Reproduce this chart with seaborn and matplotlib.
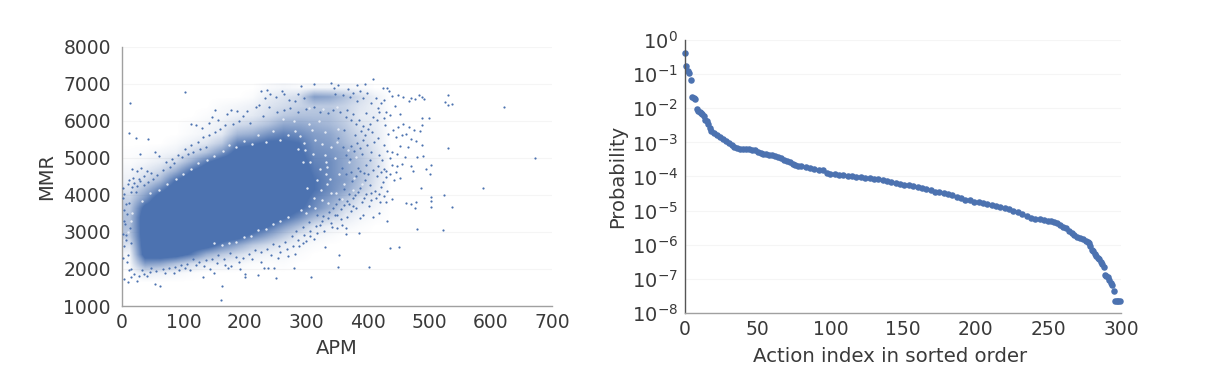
import pandas as pd
import seaborn as sns
import matplotlib.pyplot as plt
from matplotlib.colors import LinearSegmentedColormap

OUTPUT_PATH = "out.png"
BLUE = "#4c72b0"
TEXT = "#3a3a3a"

# The cloud is far too dense to read dot by dot, so its ink coverage is read off
# the picture per cell: 25 APM wide (columns from 0) and 250 MMR tall (rows from 7000 down).
COVERAGE_EXTENT = [0, 450, 1500, 7000]
COVERAGE_7000 = [0, 0, 0, 0, 0, 0, 0, 0, 0, .03, .05, .03, .05, .05, .05, .03, 0, 0]
COVERAGE_6750 = [0, 0, 0, 0, 0, 0, 0, 0, .02, .1, .15, .2, .55, .5, .35, .2, .08, 0]
COVERAGE_6500 = [0, 0, 0, 0, 0, 0, .03, .05, .08, .15, .2, .25, .3, .3, .25, .15, .08, 0]
COVERAGE_6250 = [0, 0, 0, 0, 0, .02, .05, .08, .12, .2, .3, .35, .35, .35, .25, .12, .1, 0]
COVERAGE_6000 = [0, 0, 0, 0, .02, .05, .08, .2, .25, .35, .5, .5, .45, .4, .3, .15, .1, 0]
COVERAGE_5750 = [0, 0, 0, 0, .03, .06, .12, .4, .45, .6, .7, .65, .55, .5, .35, .2, .12, 0]
COVERAGE_5500 = [0, 0, 0, .03, .08, .15, .3, .7, .75, .85, .85, .8, .6, .55, .4, .25, .12, 0]
COVERAGE_5250 = [.01, .02, .05, .08, .2, .35, .6, .9, .95, .97, .95, .85, .65, .6, .5, .3, .15, 0]
COVERAGE_5000 = [.02, .05, .1, .2, .45, .75, .95, 1, 1, 1, 1, .92, .7, .65, .5, .35, .18, 0]
COVERAGE_4750 = [.05, .12, .22, .45, .8, 1, 1, 1, 1, 1, 1, .95, .75, .65, .5, .35, .18, 0]
COVERAGE_4500 = [.08, .2, .4, .8, 1, 1, 1, 1, 1, 1, 1, 1, .8, .65, .55, .35, .15, 0]
COVERAGE_4250 = [.15, .4, .7, 1, 1, 1, 1, 1, 1, 1, 1, 1, .8, .65, .5, .3, .12, 0]
COVERAGE_4000 = [.25, .6, 1, 1, 1, 1, 1, 1, 1, 1, 1, .95, .7, .55, .35, .15, .08, 0]
COVERAGE_3750 = [.3, .9, 1, 1, 1, 1, 1, 1, 1, 1, 1, .85, .65, .45, .2, .1, .05, 0]
COVERAGE_3500 = [.35, 1, 1, 1, 1, 1, 1, 1, 1, 1, .85, .65, .4, .25, .12, .05, .02, 0]
COVERAGE_3250 = [.35, 1, 1, 1, 1, 1, 1, 1, 1, .8, .55, .35, .15, .08, .05, .02, 0, 0]
COVERAGE_3000 = [.3, 1, 1, 1, 1, 1, 1, .95, .7, .5, .3, .12, .06, .03, 0, 0, 0, 0]
COVERAGE_2750 = [.15, 1, 1, 1, 1, .95, .7, .5, .3, .2, .1, .05, .02, 0, 0, 0, 0, 0]
COVERAGE_2500 = [.05, .95, 1, .95, .75, .45, .3, .2, .1, .06, .05, .02, 0, 0, 0, 0, 0, 0]
COVERAGE_2250 = [.03, .55, .5, .35, .2, .1, .08, .05, .02, .01, .02, 0, 0, 0, 0, 0, 0, 0]
COVERAGE_2000 = [0, .12, .08, .05, .02, 0, 0, 0, 0, 0, 0, 0, 0, 0, 0, 0, 0, 0]
COVERAGE_1750 = [0, 0, 0, 0, 0, 0, 0, 0, 0, 0, 0, 0, 0, 0, 0, 0, 0, 0]

# Individually visible dots.
OUTLIERS = [
    (13, 6480), (102, 6790), (12, 5680), (23, 5540), (42, 5500), (30, 5100), (53, 5150), (60, 5060),
    (62, 1530), (54, 1590), (4, 1730), (10, 1660), (24, 1680), (161, 1170), (163, 1550), (200, 1870),
    (201, 1780), (222, 1830), (250, 1750), (307, 1780), (132, 1780), (150, 1880), (172, 2020),
    (385, 2980), (402, 2060), (352, 2060), (353, 2370), (437, 2570), (451, 2590), (481, 3090),
    (523, 3060), (537, 3670), (524, 3990), (503, 3850), (503, 3680), (503, 3950), (588, 4180),
    (673, 4990), (622, 6390), (530, 5270), (503, 4820), (502, 4560), (495, 4700), (487, 4200),
    (478, 3800), (470, 3750), (463, 3780), (477, 3650), (488, 5350), (488, 5900), (489, 6080),
    (500, 6070), (485, 5730), (471, 5500), (479, 5470), (462, 5640), (530, 6700), (526, 6500),
    (538, 6470), (531, 6420), (489, 6640), (491, 6590), (483, 6700), (477, 6600), (470, 6620),
    (467, 6550), (458, 6650), (450, 6700), (440, 6680), (432, 6880), (425, 6900), (435, 6800),
    (409, 7130), (395, 6990), (382, 6980), (340, 7040), (313, 6990), (292, 6950), (260, 6800),
    (236, 6830), (226, 6800), (448, 5110), (455, 4850), (447, 4780), (470, 4780), (473, 4650),
    (461, 5040), (490, 5050), (480, 5040), (440, 4800), (430, 4650), (425, 4350), (443, 4400),
    (440, 3900), (432, 4100), (430, 3800), (420, 3800), (418, 3500), (432, 3300), (408, 3400),
    (402, 3700), (392, 3450), (365, 3100), (364, 2950), (350, 3100), (330, 2600), (340, 3250),
    (312, 2820), (300, 2750), (278, 2620), (282, 2400), (280, 2030), (270, 2350), (254, 2300),
    (247, 2040), (238, 2040), (231, 2040), (226, 2200), (197, 2300), (192, 1990), (178, 2070),
    (144, 2010), (155, 2150), (120, 2100), (110, 1980), (85, 1900),
]

FRINGE = [
    (151, 6290), (146, 6120), (157, 6030), (171, 6190), (177, 6310), (187, 6280), (197, 6130),
    (204, 6260), (218, 6370), (223, 6440), (233, 6610), (241, 6740), (251, 6660), (263, 6730),
    (272, 6580), (282, 6540), (287, 6720), (297, 6610), (345, 6890), (352, 6960), (368, 6870),
    (376, 6760), (388, 6820), (399, 6770), (414, 6610), (421, 6480), (429, 6240), (437, 6170),
    (444, 6410), (453, 6180), (415, 6030), (403, 5920), (397, 6220), (386, 6040), (428, 5890),
    (446, 5570), (455, 5610), (465, 5290), (452, 5320), (439, 5170), (427, 5360), (417, 5540),
    (407, 5690), (396, 5610), (389, 5730), (404, 4940), (416, 4790), (426, 4700), (394, 4590),
    (412, 4120), (403, 4260), (421, 4210), (394, 3930), (406, 3860), (376, 3690), (367, 3850),
    (357, 3610), (356, 3340), (346, 3460), (326, 3290), (316, 3150), (306, 3030), (296, 2930),
    (286, 2790), (276, 2890), (266, 2730), (256, 2620), (246, 2680), (236, 2530), (226, 2470),
    (217, 2510), (206, 2410), (186, 2330), (176, 2440), (166, 2280), (156, 2390), (146, 2260),
    (136, 2240), (126, 2190), (116, 2270), (106, 2140), (96, 2110), (86, 2060), (76, 2040),
    (66, 2010), (56, 1940), (46, 1920), (36, 1870), (28, 1810), (20, 1860), (14, 2010), (9, 2390),
    (7, 2790), (5, 3220), (4, 3590), (2, 3910), (1, 4190), (3, 3310), (6, 2910), (2, 2310),
    (8, 3490), (12, 3790), (17, 4210), (22, 4090), (13, 3120), (14, 2690), (16, 4700), (24, 4660),
    (31, 4720), (41, 4640), (18, 4470), (27, 4430), (36, 4510), (47, 4590), (57, 4530), (66, 4670),
    (78, 4770), (85, 4860), (97, 5030), (107, 5110), (116, 5160), (127, 5240), (137, 5310),
    (71, 4890), (81, 4960), (91, 5090), (103, 5240), (113, 5360), (123, 5440), (132, 5560),
    (142, 5620), (113, 5930), (120, 5890), (131, 5810), (141, 5940), (152, 5710), (159, 5790),
    (167, 5900), (181, 5930), (191, 6010), (208, 5940), (229, 6130), (239, 6390), (253, 6240),
    (263, 6290), (274, 6360), (287, 6240), (299, 6320), (312, 6370), (323, 6240), (335, 6210),
    (343, 6310), (355, 6240), (366, 6290), (376, 6190), (380, 5620), (372, 5330), (361, 5750),
    (391, 5120), (398, 4820), (384, 4720), (375, 4380), (387, 4190), (379, 3990), (370, 3760),
    (348, 3770), (337, 3540), (327, 3420), (317, 3470), (305, 3260), (295, 3140), (284, 3020),
]

# Further dots in the thin right part of the cloud and along the left axis.
THIN_RIGHT = [
    (352, 5530), (359, 5310), (364, 5090), (371, 4980), (377, 5180), (383, 5410), (388, 5260),
    (393, 5490), (399, 5340), (406, 5170), (411, 5420), (418, 5080), (424, 4950), (431, 5180),
    (436, 4990), (358, 4720), (365, 4560), (372, 4630), (381, 4510), (388, 4640), (395, 4410),
    (401, 4580), (408, 4670), (415, 4520), (421, 4610), (429, 4480), (437, 4560), (446, 4630),
    (452, 4470), (362, 4170), (369, 4040), (376, 3910), (384, 4090), (391, 3820), (398, 4020),
    (405, 4050), (413, 3920), (419, 4040), (426, 3960), (361, 3720), (353, 3890), (344, 3660),
    (335, 3380), (342, 3130), (350, 3470), (358, 3180), (367, 3400), (373, 3560), (381, 3640),
    (388, 3390), (322, 3180), (329, 3040), (318, 2960), (306, 2880), (295, 2710), (288, 2630),
    (268, 2530), (258, 2460), (243, 2390), (212, 2260), (190, 2190), (168, 2120), (133, 2070),
    (102, 2020), (364, 6120), (372, 6020), (381, 5930), (392, 5860), (400, 5780), (408, 6120),
    (419, 6240), (426, 6080), (433, 5640), (441, 5760), (449, 5850), (458, 5920), (468, 5830),
    (476, 5760), (346, 6720), (359, 6690), (371, 6640), (383, 6550), (393, 6610), (406, 6480),
    (416, 6360), (426, 6560), (3, 4040), (6, 3760), (9, 4310), (12, 4410), (15, 4090), (20, 4320),
    (25, 4250), (30, 4390), (35, 4260), (42, 4340), (50, 4420), (1, 2950), (3, 2620), (8, 2200),
    (11, 1980), (15, 1790), (32, 1970), (40, 1800), (48, 2020), (70, 1880), (92, 1960),
]

# White gaps between the dots in the thinner part of the cloud.
GAPS = [
    (290, 5600), (298, 5210), (306, 4880), (314, 5490), (322, 4690), (330, 5090), (338, 4420),
    (346, 5010), (354, 4580), (362, 4310), (370, 4890), (378, 4470), (301, 4190), (312, 3920),
    (324, 4130), (336, 3790), (348, 4060), (358, 3880), (304, 3710), (292, 3590), (318, 4410),
    (326, 5380), (341, 5290), (310, 5760), (282, 5740), (271, 5610), (258, 5490), (246, 5720),
    (234, 5440), (222, 5610), (211, 5390), (198, 5460), (186, 5310), (174, 5340), (164, 5190),
    (150, 5060), (138, 4940), (124, 4860), (112, 4690), (100, 4560), (88, 4440), (74, 4310),
    (60, 4140), (46, 4060), (32, 3840), (270, 3410), (258, 3290), (246, 3210), (234, 3090),
    (222, 3060), (210, 2890), (198, 2860), (186, 2740), (174, 2710), (162, 2640), (150, 2690),
    (16, 3510), (14, 3290), (10, 3010), (4, 2790), (331, 5710), (350, 5440), (368, 5210),
    (381, 5040), (390, 4310), (376, 4140), (364, 3490), (344, 3310), (333, 4750), (332, 4560),
    (332, 4900), (333, 4300), (294, 4900), (311, 5120), (352, 5790), (305, 5920), (340, 4050),
    (296, 5400), (287, 5250), (325, 3860), (314, 3640), (300, 3520), (320, 6010), (280, 6010),
    (262, 6050), (305, 6360), (328, 6330), (350, 6380),
]

MMR_TICKS = [1000, 2000, 3000, 4000, 5000, 6000, 7000, 8000]

# Sorted action frequencies.
ACTION_INDEX = [
    0, 1, 2, 3, 4, 5, 6, 7, 8, 9, 10, 11, 12, 13, 14, 15, 16, 17, 18, 20, 22, 24, 26, 28, 30,
    32, 34, 36, 38, 40, 42, 44, 46, 48, 50, 52, 54, 56, 58, 60, 62, 64, 66, 68, 70, 72, 74, 76,
    78, 80, 83, 86, 89, 92, 95, 98, 100, 103, 106, 109, 112, 115, 118, 121, 124, 127, 130, 133,
    136, 139, 142, 145, 148, 151, 154, 157, 160, 163, 166, 169, 172, 175, 178, 181, 184, 187,
    190, 193, 196, 199, 202, 205, 208, 211, 214, 217, 220, 223, 226, 229, 232, 235, 238, 241,
    244, 247, 250, 252, 254, 256, 258, 260, 262, 264, 266, 268, 270, 272, 274, 276, 277, 278,
    279, 280, 281, 282, 283, 284, 285, 286, 287, 288, 289, 290, 291, 292, 293, 294, 295, 296,
    297, 298, 299,
]
ACTION_PROB = [
    4.3e-1, 1.7e-1, 1.2e-1, 1.1e-1, 6.6e-2, 2.1e-2, 2.0e-2, 1.9e-2, 9.3e-3, 8.5e-3, 8.0e-3,
    7.5e-3, 6.7e-3, 6.0e-3, 4.6e-3, 4.1e-3, 3.5e-3, 2.6e-3, 2.2e-3, 1.9e-3, 1.6e-3, 1.4e-3,
    1.27e-3, 1.12e-3, 9.4e-4, 8.5e-4, 7.5e-4, 6.8e-4, 6.4e-4, 6.4e-4, 6.3e-4, 6.2e-4, 6.1e-4,
    6.0e-4, 5.2e-4, 4.9e-4, 4.6e-4, 4.5e-4, 4.4e-4, 4.3e-4, 4.1e-4, 3.8e-4, 3.4e-4, 3.1e-4,
    2.9e-4, 2.7e-4, 2.3e-4, 2.2e-4, 2.1e-4, 2.0e-4, 1.9e-4, 1.8e-4, 1.7e-4, 1.6e-4, 1.5e-4,
    1.3e-4, 1.2e-4, 1.17e-4, 1.14e-4, 1.1e-4, 1.05e-4, 1.0e-4, 9.6e-5, 9.4e-5, 9.2e-5, 9.0e-5,
    8.7e-5, 8.4e-5, 7.8e-5, 7.3e-5, 6.8e-5, 6.4e-5, 6.0e-5, 5.8e-5, 5.5e-5, 5.2e-5, 4.9e-5,
    4.6e-5, 4.2e-5, 3.9e-5, 3.6e-5, 3.4e-5, 3.2e-5, 3.0e-5, 2.8e-5, 2.5e-5, 2.3e-5, 2.1e-5,
    2.0e-5, 1.85e-5, 1.75e-5, 1.65e-5, 1.55e-5, 1.45e-5, 1.35e-5, 1.3e-5, 1.2e-5, 1.08e-5,
    1.0e-5, 9.0e-6, 8.0e-6, 7.0e-6, 6.2e-6, 5.8e-6, 5.5e-6, 5.3e-6, 5.1e-6, 4.9e-6, 4.5e-6,
    4.2e-6, 3.9e-6, 3.4e-6, 3.0e-6, 2.6e-6, 2.2e-6, 1.9e-6, 1.7e-6, 1.55e-6, 1.45e-6, 1.3e-6,
    1.2e-6, 1.1e-6, 9.0e-7, 7.2e-7, 6.5e-7, 5.5e-7, 4.7e-7, 4.1e-7, 3.7e-7, 3.2e-7, 2.7e-7,
    2.3e-7, 1.3e-7, 1.25e-7, 1.1e-7, 9.0e-8, 7.5e-8, 6.5e-8, 4.3e-8, 2.2e-8, 2.2e-8, 2.2e-8,
    2.2e-8,
]
EXPONENTS = [0, -1, -2, -3, -4, -5, -6, -7, -8]


def style_axes(ax, labelsize=13.5) -> None:
    sns.despine(ax=ax)
    ax.grid(axis="y", color="#f5f5f5", linewidth=0.8)
    ax.grid(axis="x", visible=False)
    ax.set_axisbelow(True)
    ax.tick_params(axis="x", which="both", length=0, labelsize=13.5, labelcolor=TEXT, pad=5)
    ax.tick_params(axis="y", which="both", length=0, labelsize=labelsize, labelcolor=TEXT, pad=8)
    ax.xaxis.label.set_color(TEXT)
    ax.yaxis.label.set_color(TEXT)
    for side in ["left", "bottom"]:
        ax.spines[side].set_color("#a0a0a0")
        ax.spines[side].set_linewidth(1.0)


def main() -> None:
    sns.set_theme(style="white", font="DejaVu Sans")
    fig = plt.figure(figsize=(12.10, 3.87), dpi=100)

    # Axes rectangles in figure fractions, from pixel edges of the 1210x387 picture.
    ax_left = fig.add_axes([122 / 1210, 1 - 306 / 387, 430 / 1210, 259 / 387])
    ax_right = fig.add_axes([685 / 1210, 1 - 313 / 387, 436 / 1210, 273 / 387])

    coverage = [
        COVERAGE_7000, COVERAGE_6750, COVERAGE_6500, COVERAGE_6250, COVERAGE_6000, COVERAGE_5750,
        COVERAGE_5500, COVERAGE_5250, COVERAGE_5000, COVERAGE_4750, COVERAGE_4500, COVERAGE_4250,
        COVERAGE_4000, COVERAGE_3750, COVERAGE_3500, COVERAGE_3250, COVERAGE_3000, COVERAGE_2750,
        COVERAGE_2500, COVERAGE_2250, COVERAGE_2000, COVERAGE_1750,
    ]
    # Transparent low end so the faint grid lines still show through the cloud's edge.
    cloud_cmap = LinearSegmentedColormap.from_list("cloud", [BLUE + "00", BLUE + "ff"])
    ax_left.imshow(
        coverage, extent=COVERAGE_EXTENT, aspect="auto", cmap=cloud_cmap,
        vmin=0, vmax=0.8, interpolation="bilinear", zorder=1,
    )
    gaps = pd.DataFrame(GAPS, columns=["APM", "MMR"])
    sns.scatterplot(data=gaps, x="APM", y="MMR", color="#e4eaf4", s=3, linewidth=0, ax=ax_left, zorder=2)
    dots = pd.DataFrame(OUTLIERS + FRINGE + THIN_RIGHT, columns=["APM", "MMR"])
    sns.scatterplot(data=dots, x="APM", y="MMR", color=BLUE, s=2.5, linewidth=0, ax=ax_left, zorder=3)
    ax_left.set_xlim(0, 700)
    ax_left.set_ylim(1000, 8000)
    ax_left.set_yticks(MMR_TICKS)
    ax_left.set_xlabel("APM", fontsize=14, labelpad=5)
    ax_left.set_ylabel("MMR", fontsize=14, labelpad=5)
    style_axes(ax_left)

    action_df = pd.DataFrame({"index": ACTION_INDEX, "prob": ACTION_PROB})
    sns.scatterplot(data=action_df, x="index", y="prob", color=BLUE, s=22, linewidth=0, ax=ax_right, clip_on=False)
    ax_right.set_yscale("log")
    ax_right.set_xlim(0, 300)
    ax_right.set_ylim(1e-8, 1)
    ax_right.set_yticks([10.0**e for e in EXPONENTS])
    ax_right.set_yticklabels([f"$\\mathregular{{10^{{{e}}}}}$" for e in EXPONENTS])
    ax_right.minorticks_off()
    ax_right.set_xlabel("Action index in sorted order", fontsize=14.2)
    ax_right.xaxis.set_label_coords((890 - 685) / 436, -0.125)
    ax_right.set_ylabel("Probability", fontsize=14, labelpad=3)
    style_axes(ax_right, labelsize=14)
    ax_right.tick_params(axis="y", pad=5)
    ax_right.spines["left"].set_color("#555555")

    fig.savefig(OUTPUT_PATH, dpi=100)
    plt.close(fig)


if __name__ == "__main__":
    main()
